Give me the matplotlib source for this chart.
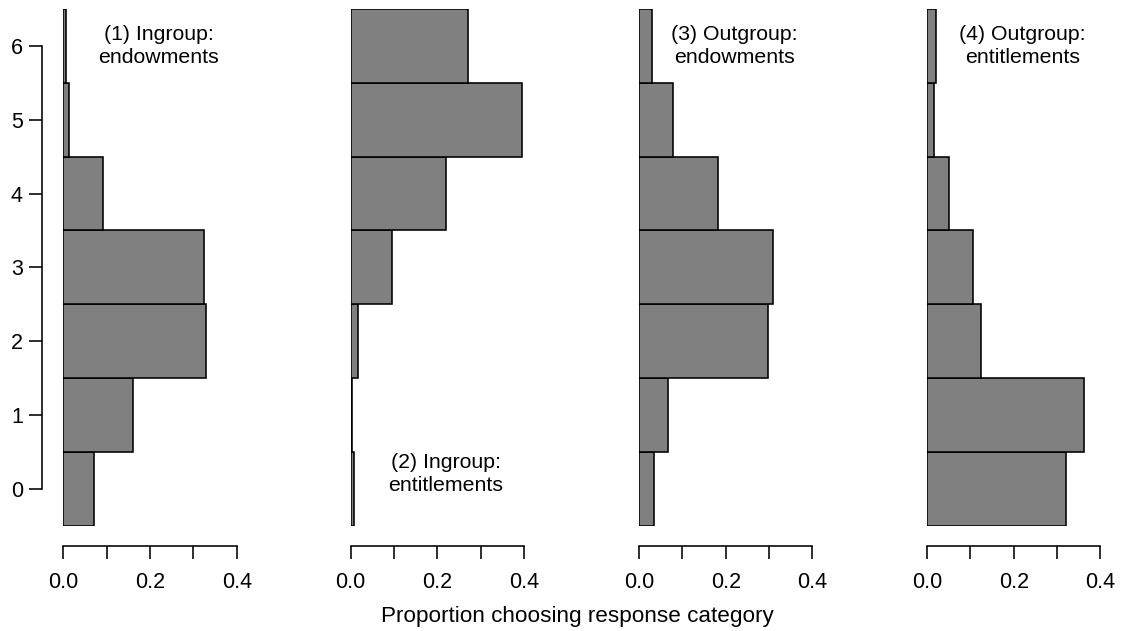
import matplotlib
matplotlib.use("Agg")
import matplotlib.pyplot as plt

plt.rcParams['font.family'] = ['Liberation Sans', 'DejaVu Sans']

# Response categories and the proportion of respondents choosing each one
categories = [0, 1, 2, 3, 4, 5, 6]
ingroup_endowments = [0.071, 0.161, 0.329, 0.325, 0.092, 0.012, 0.007]
ingroup_entitlements = [0.008, 0.002, 0.017, 0.096, 0.219, 0.396, 0.270]
outgroup_endowments = [0.035, 0.068, 0.297, 0.310, 0.183, 0.078, 0.031]
outgroup_entitlements = [0.320, 0.363, 0.125, 0.107, 0.051, 0.016, 0.020]

panel_titles = ["(1) Ingroup:\nendowments", "(2) Ingroup:\nentitlements",
                "(3) Outgroup:\nendowments", "(4) Outgroup:\nentitlements"]
panel_values = [ingroup_endowments, ingroup_entitlements,
                outgroup_endowments, outgroup_entitlements]
title_y = [6.0, 0.2, 6.0, 6.0]
x_ticks = [0.0, 0.1, 0.2, 0.3, 0.4]
x_ticklabels = ["0.0", "", "0.2", "", "0.4"]

W, H = 1122, 631
DPI = 100
PX = 72 / DPI  # points per pixel
fig = plt.figure(figsize=(W / DPI, H / DPI), dpi=DPI)

lefts_px = [63.3, 350.7, 639.0, 927.0]
width_px = 173.4
top_px, bottom_px = 9.0, 525.7
LW = 1.15

for i, (vals, title) in enumerate(zip(panel_values, panel_titles)):
    ax = fig.add_axes([lefts_px[i] / W, (H - bottom_px) / H,
                       width_px / W, (bottom_px - top_px) / H])
    ax.barh(categories, vals, height=1.0, color="#808080",
            edgecolor="black", linewidth=LW)
    ax.set_xlim(0, 0.4)
    ax.set_ylim(-0.5, 6.5)
    for s in ("top", "right"):
        ax.spines[s].set_visible(False)
    ax.spines["bottom"].set_position(("outward", 20.5 * PX))
    ax.spines["bottom"].set_bounds(0, 0.4)
    ax.spines["bottom"].set_linewidth(LW)
    ax.set_xticks(x_ticks)
    ax.set_xticklabels(x_ticklabels)
    ax.tick_params(axis="x", length=13 * PX, width=LW, labelsize=15.5,
                   pad=9.5)
    if i == 0:
        ax.spines["left"].set_position(("outward", 21 * PX))
        ax.spines["left"].set_bounds(0, 6)
        ax.spines["left"].set_linewidth(LW)
        ax.set_yticks(categories)
        ax.tick_params(axis="y", length=12.6 * PX, width=LW, labelsize=15.5,
                       pad=5)
    else:
        ax.spines["left"].set_visible(False)
        ax.set_yticks([])
    ax.text(0.22, title_y[i], title, ha="center", va="center",
            fontsize=15.3, linespacing=1.3)

fig.text(577 / W, 1 - 621.7 / H, "Proportion choosing response category",
         ha="center", va="baseline", fontsize=16.2)

fig.savefig("out.png", dpi=DPI)
